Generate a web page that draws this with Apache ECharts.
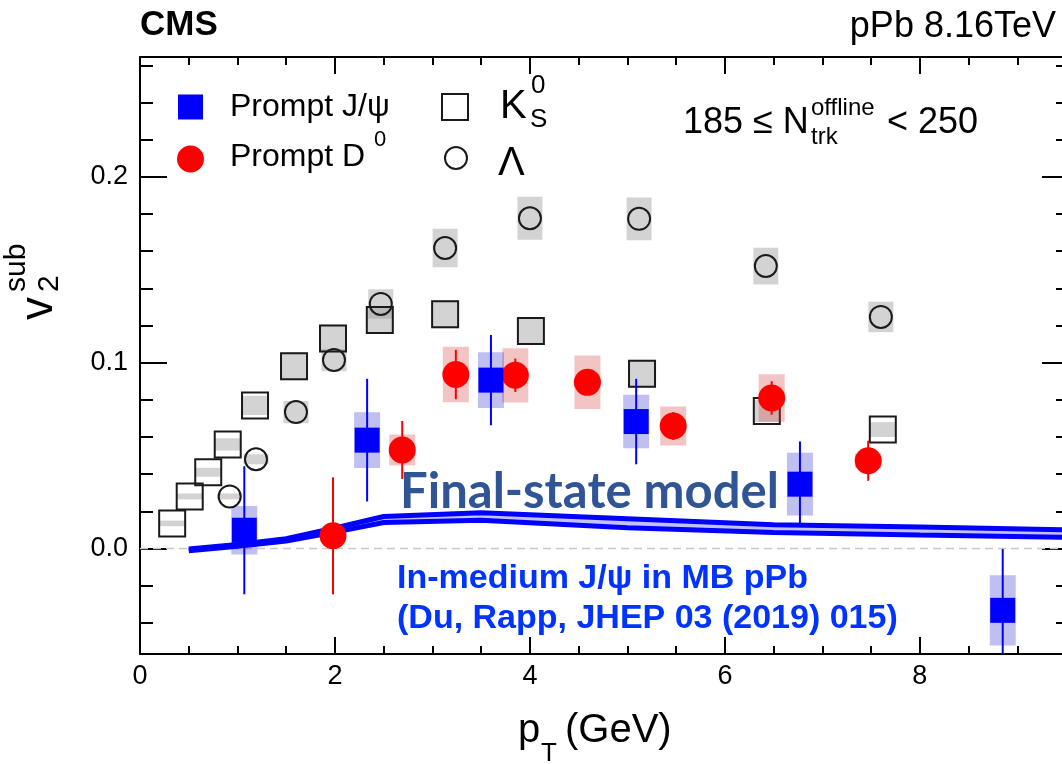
<!DOCTYPE html>
<html><head><meta charset="utf-8">
<script src="https://cdn.jsdelivr.net/npm/echarts@6/dist/echarts.min.js"></script>
<style>html,body{margin:0;padding:0;background:#fff}#c{width:1062px;height:764px}</style>
</head><body><div id="c"></div>
<script>
// ---------------- data ----------------
const jpsiX = [1.07, 2.33, 3.60, 5.09, 6.77, 8.85];
const jpsiY = [0.0098, 0.0583, 0.0906, 0.0683, 0.0346, -0.0333];
const jpsiStat = [0.0345, 0.033, 0.0243, 0.023, 0.023, 0.033];
const jpsiSys = [0.013, 0.015, 0.015, 0.0144, 0.0169, 0.0189];

const d0X = [1.98, 2.69, 3.24, 3.85, 4.59, 5.47, 6.48, 7.47];
const d0Y = [0.0068, 0.053, 0.0936, 0.0932, 0.0894, 0.0659, 0.081, 0.0472];
const d0Stat = [0.0315, 0.0156, 0.0133, 0.009, 0.006, 0.0075, 0.009, 0.0108];
const d0Sys = [0.003, 0.0083, 0.0149, 0.0146, 0.0144, 0.0105, 0.0128, 0.004];

const k0sX = [0.33, 0.51, 0.70, 0.90, 1.18, 1.58, 1.98, 2.46, 3.13, 4.01, 5.15, 6.43, 7.62];
const k0sY = [0.0135, 0.028, 0.041, 0.056, 0.077, 0.098, 0.113, 0.123, 0.126, 0.117, 0.094, 0.074, 0.064];
const k0sSys = [0.0015, 0.0016, 0.0024, 0.0033, 0.0052, 0.0075, 0.0075, 0.0075, 0.0075, 0.0075, 0.0075, 0.006, 0.004];

const lamX = [0.92, 1.19, 1.60, 1.99, 2.47, 3.13, 4.00, 5.12, 6.42, 7.60];
const lamY = [0.028, 0.048, 0.0734, 0.1014, 0.1316, 0.1617, 0.1777, 0.1774, 0.152, 0.1246];
const lamSys = [0.0016, 0.0027, 0.006, 0.006, 0.0079, 0.0104, 0.0116, 0.0115, 0.0099, 0.0082];

const modelX  = [0.5, 1.0, 1.5, 2.0, 2.5, 3.5, 5.0, 6.5, 8.0, 9.53];
const modelHi = [-0.0003, 0.0022, 0.0052, 0.0110, 0.0172, 0.0192, 0.0160, 0.0128, 0.0115, 0.0100];
const modelLo = [-0.0012, 0.0012, 0.0040, 0.0088, 0.0140, 0.0152, 0.0112, 0.0086, 0.0072, 0.0060];

const xMajor = [0, 2, 4, 6, 8];
const xMinor = [0.5, 1, 1.5, 2.5, 3, 3.5, 4.5, 5, 5.5, 6.5, 7, 7.5, 8.5, 9, 9.5];
const yMajor = [0, 0.1, 0.2];
const yMinor = [-0.04, -0.02, 0.02, 0.04, 0.06, 0.08, 0.12, 0.14, 0.16, 0.18, 0.22, 0.24, 0.26];

const XMIN = 0, XMAX = 9.53, YMIN = -0.0568, YMAX = 0.2645;

// ---------------- helpers ----------------
const FONT = '"Liberation Sans", Arial, sans-serif';
function boxSeries(xs, ys, es, color, hw, z) {
  return {
    type: 'custom', z, clip: true, silent: true,
    data: xs.map((x, i) => [x, ys[i], es[i]]),
    encode: { x: 0, y: 1 },
    renderItem(params, api) {
      const x = api.value(0), y = api.value(1), e = api.value(2);
      const a = api.coord([x, y + e]), b = api.coord([x, y - e]);
      return { type: 'rect', shape: { x: a[0] - hw, y: a[1], width: 2 * hw, height: b[1] - a[1] }, style: { fill: color } };
    }
  };
}
function errSeries(xs, ys, es, color, z) {
  return {
    type: 'custom', z, clip: true, silent: true,
    data: xs.map((x, i) => [x, ys[i], es[i]]),
    encode: { x: 0, y: 1 },
    renderItem(params, api) {
      const x = api.value(0), y = api.value(1), e = api.value(2);
      const a = api.coord([x, y + e]), b = api.coord([x, y - e]);
      return { type: 'line', shape: { x1: a[0], y1: a[1], x2: b[0], y2: b[1] }, style: { stroke: color, lineWidth: 2 } };
    }
  };
}
function T(text, x, base, size, o = {}) {
  const rot = o.rot || 0;
  const off = 0.35 * size;
  let ax = x, ay = base - off;
  if (rot) { ax = x - off; ay = base; }
  return {
    type: 'text', x: ax, y: ay, rotation: rot, scaleX: o.sx || 1, z: 100,
    style: {
      text, fill: o.color || '#000',
      font: (o.weight || 'normal') + ' ' + size + 'px ' + (o.family || FONT),
      align: o.align || 'left', verticalAlign: 'middle',
      textAlign: o.align || 'left', textVerticalAlign: 'middle'
    }
  };
}
const tickStyle = { color: '#000', width: 2 };
function hiddenAxis(extra) {
  return Object.assign({
    type: 'value', splitLine: { show: false }, axisLabel: { show: false },
    axisLine: { show: false, onZero: false }, axisTick: { show: false }
  }, extra);
}

// ---------------- chart ----------------
const chart = echarts.init(document.getElementById('c'), null, { renderer: 'canvas' });
const xBase = { min: XMIN, max: XMAX };
const yBase = { min: YMIN, max: YMAX };
const openStyle = { color: 'rgba(0,0,0,0)', borderColor: '#1a1a1a', borderWidth: 2, opacity: 1 };
const option = {
  animation: false,
  backgroundColor: '#fff',
  textStyle: { fontFamily: FONT },
  grid: { left: 140, top: 57, width: 929, height: 597, containLabel: false, outerBoundsMode: 'none' },
  xAxis: [
    hiddenAxis(Object.assign({}, xBase, {
      position: 'bottom',
      axisLine: { show: true, onZero: false, lineStyle: tickStyle },
      axisTick: { show: true, inside: true, length: 17, customValues: xMajor, lineStyle: tickStyle },
      axisLabel: { show: true, customValues: xMajor, fontSize: 27, color: '#000', margin: 9, fontFamily: FONT }
    })),
    hiddenAxis(Object.assign({}, xBase, {
      position: 'bottom',
      axisTick: { show: true, inside: true, length: 8, customValues: xMinor, lineStyle: tickStyle }
    })),
    hiddenAxis(Object.assign({}, xBase, {
      position: 'top',
      axisLine: { show: true, onZero: false, lineStyle: tickStyle },
      axisTick: { show: true, inside: true, length: 17, customValues: xMajor, lineStyle: tickStyle }
    })),
    hiddenAxis(Object.assign({}, xBase, {
      position: 'top',
      axisTick: { show: true, inside: true, length: 8, customValues: xMinor, lineStyle: tickStyle }
    }))
  ],
  yAxis: [
    hiddenAxis(Object.assign({}, yBase, {
      position: 'left',
      axisLine: { show: true, onZero: false, lineStyle: tickStyle },
      axisTick: { show: true, inside: true, length: 27, customValues: yMajor, lineStyle: tickStyle },
      axisLabel: { show: true, customValues: yMajor, fontSize: 27, color: '#000', margin: 12, fontFamily: FONT,
                   formatter: v => Number(v).toFixed(1) }
    })),
    hiddenAxis(Object.assign({}, yBase, {
      position: 'left',
      axisTick: { show: true, inside: true, length: 13, customValues: yMinor, lineStyle: tickStyle }
    })),
    hiddenAxis(Object.assign({}, yBase, {
      position: 'right',
      axisLine: { show: true, onZero: false, lineStyle: tickStyle },
      axisTick: { show: true, inside: true, length: 27, customValues: yMajor, lineStyle: tickStyle }
    })),
    hiddenAxis(Object.assign({}, yBase, {
      position: 'right',
      axisTick: { show: true, inside: true, length: 13, customValues: yMinor, lineStyle: tickStyle }
    }))
  ],
  series: [
    { type: 'line', z: 0, silent: true, symbol: 'none', data: [[XMIN, 0], [XMAX, 0]],
      lineStyle: { color: '#c8c8c8', width: 1.5, type: [8, 5] } },
    boxSeries(k0sX, k0sY, k0sSys, 'rgba(150,150,150,0.42)', 13, 1),
    boxSeries(lamX, lamY, lamSys, 'rgba(150,150,150,0.42)', 12.5, 1),
    { type: 'scatter', z: 2, silent: true, symbol: 'rect', symbolSize: 26,
      data: k0sX.map((x, i) => [x, k0sY[i]]), itemStyle: openStyle },
    { type: 'scatter', z: 2, silent: true, symbol: 'circle', symbolSize: 22,
      data: lamX.map((x, i) => [x, lamY[i]]), itemStyle: openStyle },
    boxSeries(d0X, d0Y, d0Sys, 'rgba(214,60,60,0.3)', 13, 3),
    boxSeries(jpsiX, jpsiY, jpsiSys, 'rgba(0,0,200,0.25)', 13, 3),
    { type: 'custom', z: 4, clip: true, silent: true, data: [[modelX[0], modelHi[0]]], encode: { x: 0, y: 1 },
      renderItem(params, api) {
        const pts = modelX.map((x, i) => api.coord([x, modelHi[i]]));
        for (let i = modelX.length - 1; i >= 0; i--) pts.push(api.coord([modelX[i], modelLo[i]]));
        return { type: 'polygon', shape: { points: pts }, style: { fill: 'rgba(120,120,235,0.45)' } };
      } },
    { type: 'line', z: 4, silent: true, symbol: 'none', data: modelX.map((x, i) => [x, modelHi[i]]),
      lineStyle: { color: '#0000ff', width: 5 } },
    { type: 'line', z: 4, silent: true, symbol: 'none', data: modelX.map((x, i) => [x, modelLo[i]]),
      lineStyle: { color: '#0000ff', width: 5 } },
    errSeries(d0X, d0Y, d0Stat, '#ff0000', 5),
    errSeries(jpsiX, jpsiY, jpsiStat, '#0000ff', 5),
    { type: 'scatter', z: 6, silent: true, symbol: 'circle', symbolSize: 27,
      data: d0X.map((x, i) => [x, d0Y[i]]), itemStyle: { color: '#ff0000', opacity: 1 } },
    { type: 'scatter', z: 6, silent: true, symbol: 'rect', symbolSize: 25,
      data: jpsiX.map((x, i) => [x, jpsiY[i]]), itemStyle: { color: '#0000ff', opacity: 1 } }
  ],
  graphic: [
    T('CMS', 140, 38, 35, { weight: 'bold' }),
    T('pPb 8.16TeV', 1056, 40, 36, { align: 'right' }),
    // legend
    { type: 'rect', z: 100, shape: { x: 178, y: 94.5, width: 25, height: 25 }, style: { fill: '#0000ff' } },
    { type: 'circle', z: 100, shape: { cx: 190.5, cy: 159, r: 13.5 }, style: { fill: '#ff0000' } },
    { type: 'rect', z: 100, shape: { x: 442, y: 94, width: 26, height: 26 }, style: { fill: 'none', stroke: '#1a1a1a', lineWidth: 2 } },
    { type: 'circle', z: 100, shape: { cx: 456, cy: 158, r: 11 }, style: { fill: 'none', stroke: '#1a1a1a', lineWidth: 2 } },
    T('Prompt J/\u03c8', 230, 118.5, 32),
    T('Prompt D', 230, 168.5, 32),
    T('0', 374, 148, 22),
    T('K', 500, 121, 40),
    T('0', 531, 95, 26),
    T('S', 530, 129, 26),
    T('\u039b', 498, 178, 40),
    T('185 \u2264 N', 683, 136, 36),
    T('offline', 811, 117, 24),
    T('trk', 811, 146, 24),
    T('< 250', 887, 136, 36),
    T('Final-state model', 400, 509, 49, { weight: 'bold', family: 'Lato, "Open Sans", sans-serif', color: '#2f5597' }),
    T('In-medium J/\u03c8 in MB pPb', 397, 591, 34, { weight: 'bold', color: '#0033ff' }),
    T('(Du, Rapp, JHEP 03 (2019) 015)', 397, 631, 34, { weight: 'bold', color: '#0033ff' }),
    // axis titles
    T('p', 518, 745, 40),
    T('T', 541, 763, 26),
    T('(GeV)', 565, 745, 40),
    T('v', 55, 320, 46, { rot: Math.PI / 2 }),
    T('2', 60, 292, 30, { rot: Math.PI / 2 }),
    T('sub', 27, 292, 30, { rot: Math.PI / 2 })
  ]
};
chart.setOption(option);
</script>
</body></html>
